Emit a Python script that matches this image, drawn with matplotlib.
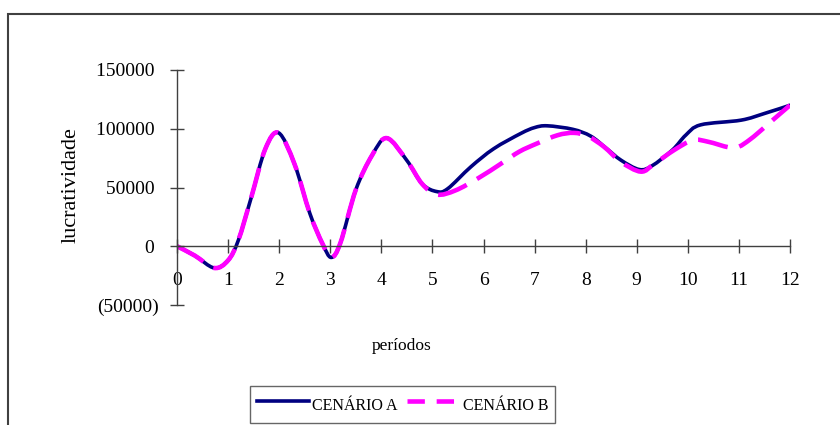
import numpy as np
import matplotlib
matplotlib.use("Agg")
from matplotlib import pyplot as plt
from matplotlib.patches import Rectangle, PathPatch
from matplotlib.path import Path
from matplotlib.lines import Line2D
from matplotlib.ticker import FuncFormatter

plt.rcParams['font.family'] = ['Liberation Serif', 'DejaVu Serif']
plt.rcParams['lines.scale_dashes'] = False

# points (period, lucratividade)
periodos_a = [0.0, 0.35, 0.73, 1.0, 1.2, 1.45, 1.73, 1.99, 2.3, 2.6, 2.85,
              3.02, 3.2, 3.5, 3.82, 4.11, 4.5, 4.8, 5.09, 5.3, 5.75, 6.2,
              6.73, 7.0, 7.25, 7.75, 8.1, 8.4, 8.69, 9.05, 9.3, 9.7, 9.96,
              10.25, 11.04, 11.5, 12.0]
cenario_a = [0, -8000, -18500, -12000, 5000, 41000, 83000, 96500, 70000,
             28000, 2000, -9500, 3000, 48000, 77500, 92000, 73000, 53000,
             46500, 49000, 67500, 83000, 96000, 101000, 102500, 99500, 93700,
             83500, 73300, 65300, 68500, 82000, 94600, 103300, 107300,
             113000, 120000]

periodos_b = [0.0, 0.35, 0.73, 1.0, 1.2, 1.45, 1.73, 1.99, 2.3, 2.6, 2.85,
              3.02, 3.2, 3.5, 3.82, 4.11, 4.5, 4.8, 5.09, 5.45, 5.9, 6.35,
              6.7, 7.05, 7.45, 7.77, 8.05, 8.36, 8.69, 9.08, 9.34, 9.73,
              10.1, 10.4, 10.8, 11.0, 11.2, 11.4, 11.7, 12.0]
cenario_b = [0, -8000, -18500, -12000, 5000, 41000, 83000, 96500, 70000,
             28000, 2000, -9500, 3000, 48000, 77500, 92000, 73000, 53000,
             44000, 47500, 58000, 70500, 80500, 87500, 94500, 96500, 93500,
             84600, 71800, 63500, 70000, 81800, 90300, 88900, 84200, 84800,
             90300, 97400, 108800, 120000]

x_ticks = list(range(0, 13))
y_ticks = [-50000, 0, 50000, 100000, 150000]

COR_A = '#000080'
COR_B = '#FF00FF'
LW_A = 2.6
LW_B = 3.3


def smooth_path(xs, ys):
    """Excel-like smoothed line: Catmull-Rom segments as cubic Beziers."""
    p = np.column_stack([xs, ys]).astype(float)
    n = len(p)
    verts = [p[0]]
    codes = [Path.MOVETO]
    for i in range(n - 1):
        p0 = p[i - 1] if i > 0 else p[i]
        p1 = p[i]
        p2 = p[i + 1]
        p3 = p[i + 2] if i + 2 < n else p[i + 1]
        verts += [p1 + (p2 - p0) / 6, p2 - (p3 - p1) / 6, p2]
        codes += [Path.CURVE4] * 3
    return Path(verts, codes)


W, H = 840, 425
fig = plt.figure(figsize=(W / 100, H / 100), dpi=100)
ax = fig.add_axes([177 / W, 1 - 305 / H, (790 - 177) / W, (305 - 70) / H])

pa = PathPatch(smooth_path(periodos_a, cenario_a), fill=False, edgecolor=COR_A,
               linewidth=LW_A, transform=ax.transData)
pa.set_joinstyle('round')
pa.set_capstyle('round')
ax.add_patch(pa)

pb = PathPatch(smooth_path(periodos_b, cenario_b), fill=False, edgecolor=COR_B,
               linewidth=LW_B, linestyle=(0, (22, 8.5)), transform=ax.transData)
pb.set_capstyle('butt')
ax.add_patch(pb)

ax.set_xlim(0, 12)
ax.set_ylim(-50000, 150000)
ax.set_xticks(x_ticks)
ax.set_yticks(y_ticks)


def fmt(v, pos):
    if v < 0:
        return f"({abs(v):.0f})"
    return f"{v:.0f} "


ax.yaxis.set_major_formatter(FuncFormatter(fmt))

for s in ['top', 'right']:
    ax.spines[s].set_visible(False)
ax.spines['bottom'].set_position(('data', 0))
for s in ['bottom', 'left']:
    ax.spines[s].set_color('#404040')
    ax.spines[s].set_linewidth(1.0)

ax.tick_params(axis='both', direction='inout', length=9.5, width=1.0,
               color='#404040', labelsize=14)
ax.tick_params(axis='x', pad=14)
ax.tick_params(axis='y', pad=8)

ax.set_ylabel('lucratividade', fontsize=16)
ax.yaxis.set_label_coords(-0.157, 0.51)
ax.set_xlabel('períodos', fontsize=12.5)
ax.xaxis.set_label_coords((402 - 177) / 613, -0.175)
ax.xaxis.label.set_verticalalignment('center')

handles = [Line2D([], [], color=COR_A, linewidth=LW_A),
           Line2D([], [], color=COR_B, linewidth=LW_B,
                  linestyle=(0, (12.5, 8.5)))]
leg = fig.legend(handles, ['CENÁRIO A', 'CENÁRIO B'], loc='center',
                 bbox_to_anchor=(402.5 / W, 1 - 404.5 / H),
                 ncol=2, fontsize=11.5, frameon=True, fancybox=False,
                 handlelength=3.25, handleheight=2.0, handletextpad=0.23,
                 columnspacing=0.57, borderpad=0.4, borderaxespad=0)
leg.get_frame().set_edgecolor('#404040')
leg.get_frame().set_linewidth(1.0)

# outer chart border (runs off the right and bottom edges)
fig.add_artist(Rectangle((8 / W, -0.1), 1.2, 1 - 14 / H + 0.1,
                         transform=fig.transFigure, fill=False,
                         edgecolor='#404040', linewidth=1.5))

fig.savefig('out.png', dpi=100)
